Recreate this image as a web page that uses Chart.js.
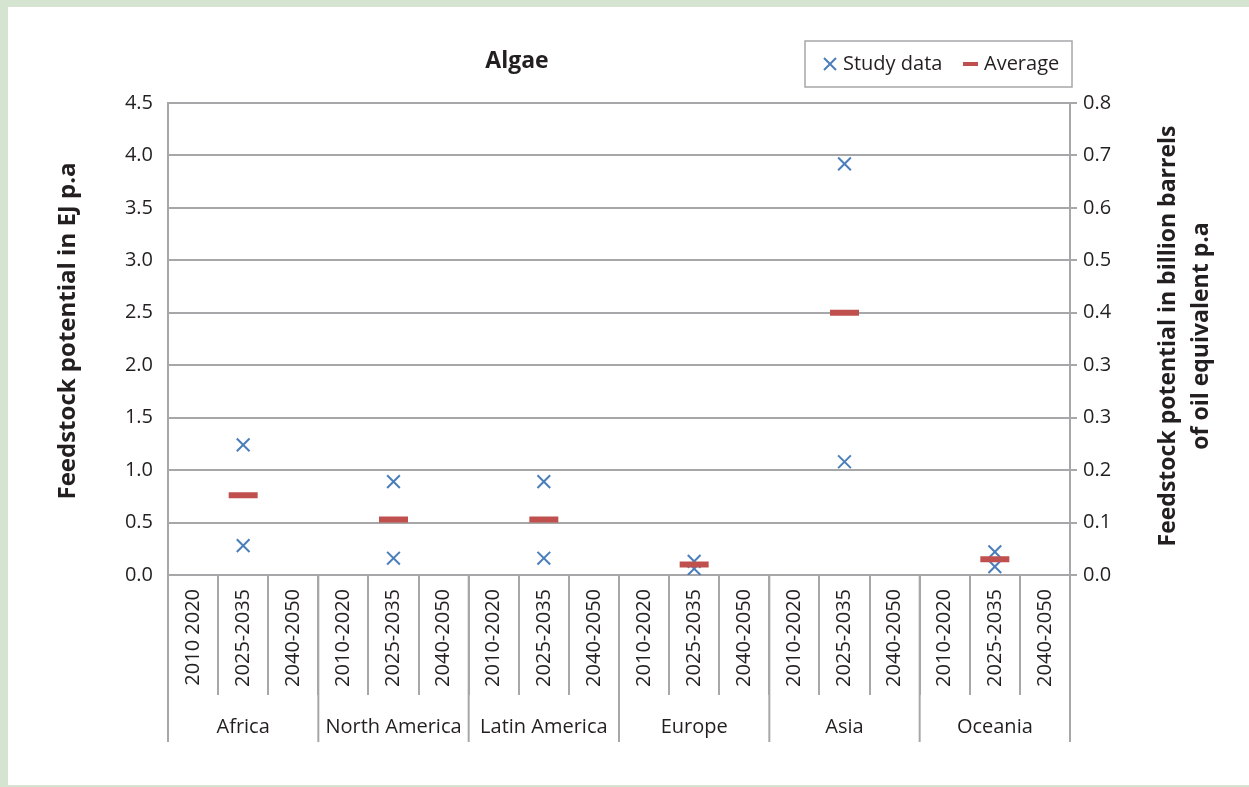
<!DOCTYPE html>
<html>
<head>
<meta charset="utf-8">
<script src="https://cdn.jsdelivr.net/npm/chart.js@4"></script>
<style>
  html, body { margin: 0; padding: 0; background: #d5e4d0; }
  #wrap { width: 1249px; height: 787px; position: relative; }
</style>
</head>
<body>
<div id="wrap"><canvas id="algaeChart" width="1249" height="787"></canvas></div>
<script>
// Algae feedstock potential chart

const regions = ['Africa', 'North America', 'Latin America', 'Europe', 'Asia', 'Oceania'];
const periods = [
    '2010 2020', '2025-2035', '2040-2050',
    '2010-2020', '2025-2035', '2040-2050',
    '2010-2020', '2025-2035', '2040-2050',
    '2010-2020', '2025-2035', '2040-2050',
    '2010-2020', '2025-2035', '2040-2050',
    '2010-2020', '2025-2035', '2040-2050'
];
// values sit in the 2025-2035 column of each region
const studyHigh = [1.24, 0.89, 0.89, 0.13, 3.92, 0.22];
const studyLow = [0.28, 0.16, 0.16, 0.06, 1.08, 0.08];
const averages = [0.76, 0.53, 0.53, 0.10, 2.50, 0.15];
const leftTicks = [0, 0.5, 1, 1.5, 2, 2.5, 3, 3.5, 4, 4.5];
const rightTickLabels = ['0.0', '0.1', '0.2', '0.3', '0.3', '0.4', '0.5', '0.6', '0.7', '0.8'];

const BLUE = '#4a7ebb';
const RED = '#c0504d';
const GRID = '#a7a7a9';
const TEXT = '#231f20';
const FONT = "'Open Sans', sans-serif";

Chart.defaults.font.family = FONT;
Chart.defaults.color = TEXT;

function regionColumn(r) {
    return r * 3 + 1;
}

// spread one value per region onto the 18 period columns
function toColumns(values) {
    const cols = periods.map(() => null);
    values.forEach((v, r) => { cols[regionColumn(r)] = v; });
    return cols;
}

function studyDataset(label, values) {
    return {
        label: label,
        data: toColumns(values),
        showLine: false,
        pointStyle: 'crossRot',
        pointRadius: 9,
        pointHoverRadius: 9,
        pointBorderWidth: 2,
        pointHoverBorderWidth: 2,
        borderColor: BLUE,
        backgroundColor: BLUE,
        order: 1
    };
}

// panel background, title, legend, axis titles, region labels
const decorations = {
    id: 'decorations',
    beforeDraw(chart) {
        const ctx = chart.ctx;
        ctx.save();
        ctx.fillStyle = '#d5e4d0';
        ctx.fillRect(0, 0, chart.width, chart.height);
        ctx.fillStyle = '#ffffff';
        ctx.fillRect(8, 7, chart.width - 8, 778);
        ctx.restore();
    },
    afterDraw(chart) {
        const ctx = chart.ctx;
        const area = chart.chartArea;
        const xs = chart.scales.x;
        const half = (xs.getPixelForValue(1) - xs.getPixelForValue(0)) / 2;

        ctx.save();
        // title
        ctx.fillStyle = TEXT;
        ctx.font = `bold 23px ${FONT}`;
        ctx.textAlign = 'center';
        ctx.textBaseline = 'middle';
        ctx.fillText('Algae', 517, 61);

        // legend box
        ctx.strokeStyle = GRID;
        ctx.lineWidth = 1.5;
        ctx.strokeRect(805, 41, 267, 46);
        ctx.strokeStyle = BLUE;
        ctx.lineWidth = 2;
        ctx.beginPath();
        ctx.moveTo(824, 58); ctx.lineTo(836, 70);
        ctx.moveTo(836, 58); ctx.lineTo(824, 70);
        ctx.stroke();
        ctx.strokeStyle = RED;
        ctx.lineWidth = 4;
        ctx.beginPath();
        ctx.moveTo(963, 64); ctx.lineTo(978, 64);
        ctx.stroke();
        ctx.fillStyle = TEXT;
        ctx.font = `20px ${FONT}`;
        ctx.textAlign = 'left';
        ctx.fillText('Study data', 843, 64);
        ctx.fillText('Average', 984, 64);

        // axis titles, reading upward
        ctx.textAlign = 'center';
        ctx.save();
        ctx.font = `bold 24px ${FONT}`;
        ctx.translate(68, 331);
        ctx.rotate(-Math.PI / 2);
        ctx.fillText('Feedstock potential in EJ p.a', 0, 0);
        ctx.restore();

        ctx.save();
        ctx.font = `bold 23px ${FONT}`;
        ctx.translate(1168, 336);
        ctx.rotate(-Math.PI / 2);
        ctx.fillText('Feedstock potential in billion barrels', 0, 0);
        ctx.fillText('of oil equivalent p.a', 0, 33);
        ctx.restore();

        // region separators and labels
        ctx.strokeStyle = GRID;
        ctx.lineWidth = 2;
        for (let g = 0; g <= regions.length; g++) {
            const bx = g < regions.length
                ? xs.getPixelForValue(g * 3) - half
                : xs.getPixelForValue(periods.length - 1) + half;
            ctx.beginPath();
            ctx.moveTo(bx, area.bottom);
            ctx.lineTo(bx, 742);
            ctx.stroke();
        }
        ctx.fillStyle = TEXT;
        ctx.font = `20px ${FONT}`;
        regions.forEach((name, r) => {
            ctx.fillText(name, xs.getPixelForValue(regionColumn(r)), 727);
        });
        ctx.restore();
    }
};

const ctx = document.getElementById('algaeChart').getContext('2d');
const chart = new Chart(ctx, {
    type: 'line',
    data: {
        labels: periods,
        datasets: [{
            label: 'Average',
            data: toColumns(averages),
            showLine: false,
            pointStyle: 'line',
            pointRadius: 14.5,
            pointHoverRadius: 14.5,
            pointBorderWidth: 6,
            pointHoverBorderWidth: 6,
            borderColor: RED,
            backgroundColor: RED,
            order: 0
        },
        studyDataset('Study data', studyHigh),
        studyDataset('Study data', studyLow)]
    },
    options: {
        responsive: false,
        animation: false,
        events: [],
        layout: { padding: { top: 103, left: 0, right: 0, bottom: 0 } },
        plugins: {
            legend: { display: false },
            title: { display: false },
            tooltip: { enabled: false }
        },
        scales: {
            x: {
                type: 'category',
                offset: true,
                afterFit: (scale) => { scale.height = 212; },
                grid: {
                    offset: true,
                    drawOnChartArea: false,
                    drawTicks: true,
                    tickLength: 120,
                    color: GRID,
                    lineWidth: 2
                },
                border: { display: true, color: GRID, width: 2 },
                ticks: {
                    autoSkip: false,
                    minRotation: 90,
                    maxRotation: 90,
                    padding: -106,
                    color: TEXT,
                    font: { size: 20 }
                }
            },
            y: {
                position: 'left',
                min: 0,
                max: 4.5,
                afterFit: (scale) => { scale.width = 168; },
                afterBuildTicks: (scale) => { scale.ticks = leftTicks.map(v => ({ value: v })); },
                grid: { color: GRID, lineWidth: 2, drawTicks: false },
                border: { display: true, color: GRID, width: 2 },
                ticks: {
                    padding: 15,
                    color: TEXT,
                    font: { size: 20 },
                    callback: (v) => v.toFixed(1)
                }
            },
            y2: {
                position: 'right',
                min: 0,
                max: 4.5,
                afterFit: (scale) => { scale.width = 179; },
                afterBuildTicks: (scale) => { scale.ticks = leftTicks.map(v => ({ value: v })); },
                grid: {
                    drawOnChartArea: false,
                    drawTicks: true,
                    tickLength: 7,
                    color: GRID,
                    lineWidth: 2
                },
                border: { display: true, color: GRID, width: 2 },
                ticks: {
                    padding: 6,
                    color: TEXT,
                    font: { size: 20 },
                    callback: (v, i) => rightTickLabels[i]
                }
            }
        }
    },
    plugins: [decorations]
});
</script>
</body>
</html>
